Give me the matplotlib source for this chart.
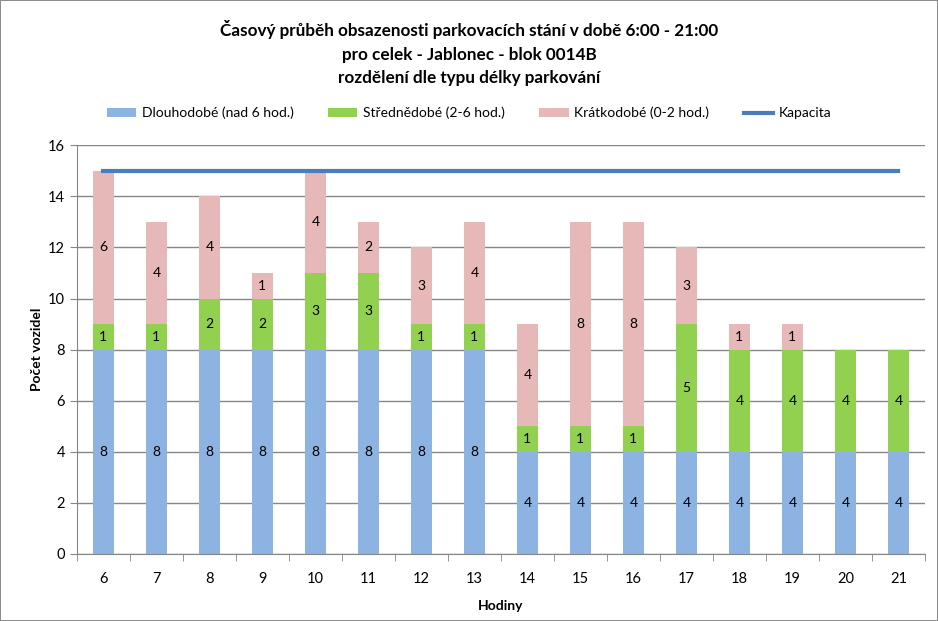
import matplotlib.pyplot as plt
import numpy as np

hours = [6, 7, 8, 9, 10, 11, 12, 13, 14, 15, 16, 17, 18, 19, 20, 21]
dlouhodobe = [8, 8, 8, 8, 8, 8, 8, 8, 4, 4, 4, 4, 4, 4, 4, 4]
strednedobe = [1, 1, 2, 2, 3, 3, 1, 1, 1, 1, 1, 5, 4, 4, 4, 4]
kratkodobe = [6, 4, 4, 1, 4, 2, 3, 4, 4, 8, 8, 3, 1, 1, 0, 0]
kapacita = [15] * len(hours)

plt.rcParams['font.family'] = ['Lato', 'DejaVu Sans']

fig = plt.figure(figsize=(9.38, 6.21), dpi=100)
fig.patch.set_edgecolor('#8c8c8c')
fig.patch.set_linewidth(1.2)
ax = fig.add_axes([0.082, 0.108, 0.904, 0.658])

x = np.arange(len(hours))
w = 0.4
long_ = np.array(dlouhodobe)
mid = np.array(strednedobe)
short = np.array(kratkodobe)

b1 = ax.bar(x, long_, w, color='#8db3e2', label='Dlouhodobé (nad 6 hod.)', zorder=2)
b2 = ax.bar(x, mid, w, bottom=long_, color='#92d050', label='Střednědobé (2-6 hod.)', zorder=2)
b3 = ax.bar(x, short, w, bottom=long_ + mid, color='#e6b9b8', label='Krátkodobé (0-2 hod.)', zorder=2)
ln, = ax.plot(x, kapacita, color='#4a7ebb', lw=3, label='Kapacita', zorder=3)

# value labels in the middle of each segment
for vals, bottoms in [(long_, 0), (mid, long_), (short, long_ + mid)]:
    bottoms = np.zeros(len(x)) + bottoms
    for i in range(len(x)):
        if vals[i] > 0:
            ax.text(x[i], bottoms[i] + vals[i] / 2, str(vals[i]), ha='center', va='center',
                    fontsize=10, color='black', zorder=4)

ax.set_xlim(-0.5, len(hours) - 0.5)
ax.set_ylim(0, 16)
ax.set_yticks(range(0, 17, 2))
ax.set_xticks(x)
ax.set_xticklabels(hours)
ax.set_xticks(np.arange(-0.5, len(hours)), minor=True)
ax.tick_params(axis='x', which='major', length=0, pad=13, labelsize=10.5)
ax.tick_params(axis='x', which='minor', length=5, color='#868686')
ax.tick_params(axis='y', length=5, color='#868686', labelsize=10.5)
ax.grid(axis='y', color='#868686', lw=1, zorder=0)
for s in ['top', 'right']:
    ax.spines[s].set_visible(False)
for s in ['left', 'bottom']:
    ax.spines[s].set_color('#868686')

ax.set_ylabel('Počet vozidel', fontsize=10, fontweight='bold', labelpad=4)
ax.set_xlabel('Hodiny', fontsize=10, fontweight='bold', labelpad=10)

fig.text(0.5, 0.968, 'Časový průběh obsazenosti parkovacích stání v době 6:00 - 21:00\n'
         'pro celek - Jablonec - blok 0014B\nrozdělení dle typu délky parkování',
         ha='center', va='top', fontsize=12.3, fontweight='bold', linespacing=1.6)

fig.legend(handles=[b1, b2, b3, ln], loc='center', bbox_to_anchor=(0.5, 0.818), ncol=4,
           frameon=False, fontsize=10, handlelength=2.1, handleheight=0.6,
           columnspacing=2.5, handletextpad=0.4)

fig.savefig('out.png', dpi=100)
